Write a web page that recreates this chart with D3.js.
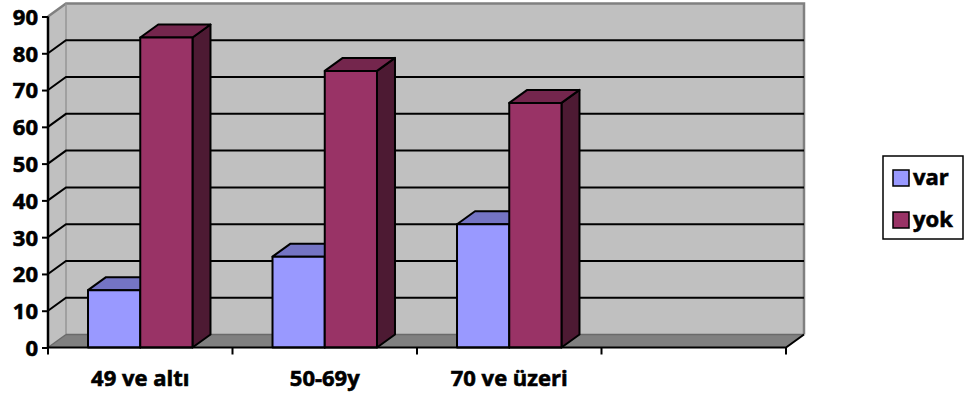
<!DOCTYPE html>
<html>
<head>
<meta charset="utf-8">
<script src="https://cdn.jsdelivr.net/npm/d3@7"></script>
<style>
  html, body { margin: 0; padding: 0; background: #ffffff; }
  svg { display: block; }
  text { font-family: "Open Sans", Lato, sans-serif; font-weight: 700; fill: #000; stroke: #000; stroke-width: 0.6px; }
</style>
</head>
<body>
<svg id="chart" width="964" height="398"></svg>
<script>
// Age groups (the last slot on the category axis is left empty)
const categories = ["49 ve altı", "50-69y", "70 ve üzeri", ""];
const seriesNames = ["var", "yok"];
const varValues = [15.6, 24.7, 33.5];
const yokValues = [84.3, 75.2, 66.5];
const yTicks = [0, 10, 20, 30, 40, 50, 60, 70, 80, 90];

const svg = d3.select("#chart");

// Oblique depth offset of the 3D box
const dx = 18, dy = -13;

const x = d3.scaleBand().domain(categories).range([48, 786]).paddingInner(0).paddingOuter(0);
const xs = d3.scaleBand().domain(seriesNames).range([0, x.bandwidth()]).paddingInner(0).paddingOuter(0.766);
const y = d3.scaleLinear().domain([0, 90]).range([347.5, 16.5]);

const x0 = x.range()[0], x1 = x.range()[1];
const yBase = y(0);

const colors = {
  var: { front: "#9999ff", top: "#7474c4", side: "#4f4f99" },
  yok: { front: "#993366", top: "#74264d", side: "#4d1a33" }
};

// Back wall
svg.append("rect")
  .attr("x", x0 + dx).attr("y", y(90) + dy)
  .attr("width", x1 - x0).attr("height", yBase - y(90))
  .attr("fill", "#c0c0c0");

// Side wall
svg.append("polygon")
  .attr("points", [[x0, y(90)], [x0 + dx, y(90) + dy], [x0 + dx, yBase + dy], [x0, yBase]].join(" "))
  .attr("fill", "#c0c0c0");

// Wall outlines
svg.append("path")
  .attr("d", `M${x0},${y(90)}L${x0 + dx},${y(90) + dy}L${x1 + dx},${y(90) + dy}L${x1 + dx},${yBase + dy}`)
  .attr("fill", "none").attr("stroke", "#808080").attr("stroke-width", 2.5);
svg.append("line")
  .attr("x1", x0 + dx).attr("x2", x0 + dx)
  .attr("y1", y(90) + dy).attr("y2", yBase + dy)
  .attr("stroke", "#969696").attr("stroke-width", 1.5);

// Gridlines: across the back wall and down the side wall
const grid = yTicks.filter(v => v > 0 && v < 90);
svg.append("g").selectAll("path").data(grid).join("path")
  .attr("d", v => `M${x0},${y(v)}L${x0 + dx},${y(v) + dy}L${x1 + dx},${y(v) + dy}`)
  .attr("fill", "none").attr("stroke", "#000").attr("stroke-width", 2);

// Floor
svg.append("polygon")
  .attr("points", [[x0, yBase], [x0 + dx, yBase + dy], [x1 + dx, yBase + dy], [x1, yBase]].join(" "))
  .attr("fill", "#808080");
svg.append("line")
  .attr("x1", x0 + dx).attr("x2", x1 + dx)
  .attr("y1", yBase + dy).attr("y2", yBase + dy)
  .attr("stroke", "#6a6a6a").attr("stroke-width", 1.5);
svg.append("line")
  .attr("x1", x0).attr("x2", x0 + dx)
  .attr("y1", yBase).attr("y2", yBase + dy)
  .attr("stroke", "#6a6a6a").attr("stroke-width", 1.5);

// Bars
const barData = [];
categories.slice(0, 3).forEach((c, i) => {
  barData.push({ cat: c, s: "var", v: varValues[i] });
  barData.push({ cat: c, s: "yok", v: yokValues[i] });
});

const bars = svg.append("g").selectAll("g").data(barData).join("g")
  .attr("stroke", "#000").attr("stroke-width", 2).attr("stroke-linejoin", "round");

bars.each(function (d) {
  const g = d3.select(this);
  const bx0 = x(d.cat) + xs(d.s);
  const bx1 = bx0 + xs.bandwidth();
  const yt = y(d.v);
  const c = colors[d.s];
  g.append("polygon")
    .attr("points", [[bx1, yt], [bx1 + dx, yt + dy], [bx1 + dx, yBase + dy], [bx1, yBase]].join(" "))
    .attr("fill", c.side);
  g.append("polygon")
    .attr("points", [[bx0, yt], [bx0 + dx, yt + dy], [bx1 + dx, yt + dy], [bx1, yt]].join(" "))
    .attr("fill", c.top);
  g.append("rect")
    .attr("x", bx0).attr("y", yt)
    .attr("width", bx1 - bx0).attr("height", yBase - yt)
    .attr("fill", c.front);
});

// Front edges of the floor
svg.append("path")
  .attr("d", `M${x0},${yBase}L${x1},${yBase}L${x1 + dx},${yBase + dy}`)
  .attr("fill", "none").attr("stroke", "#000").attr("stroke-width", 2);

// Value axis
const yAxis = svg.append("g").attr("transform", `translate(${x0},0)`)
  .call(d3.axisLeft(y).tickValues(yTicks).tickSize(6).tickPadding(4).tickFormat(d3.format("d")));
yAxis.select(".domain").attr("stroke", "#000").attr("stroke-width", 2.5).attr("d", `M0,${y(90)}V${yBase}`);
yAxis.selectAll(".tick line").attr("stroke", "#000").attr("stroke-width", 2);
yAxis.selectAll(".tick text").style("font-size", "22px").attr("dy", "0.36em");

// Category axis
const xAxis = svg.append("g").attr("transform", `translate(0,${yBase})`)
  .call(d3.axisBottom(x).tickSize(0).tickPadding(0));
xAxis.select(".domain").remove();
xAxis.selectAll(".tick text").style("font-size", "22px").attr("y", 38).attr("dy", 0);
svg.append("g").selectAll("line").data(d3.range(categories.length + 1)).join("line")
  .attr("x1", i => x0 + i * x.step()).attr("x2", i => x0 + i * x.step())
  .attr("y1", yBase).attr("y2", yBase + 7)
  .attr("stroke", "#000").attr("stroke-width", 2);

// Legend
const legend = svg.append("g");
legend.append("rect")
  .attr("x", 883).attr("y", 156).attr("width", 80).attr("height", 83)
  .attr("fill", "#fff").attr("stroke", "#000").attr("stroke-width", 1.5);
const items = legend.selectAll("g").data(seriesNames).join("g")
  .attr("transform", (d, i) => `translate(893,${178 + i * 42})`);
items.append("rect")
  .attr("x", 0).attr("y", -8).attr("width", 16).attr("height", 16)
  .attr("fill", d => colors[d].front).attr("stroke", "#000").attr("stroke-width", 1.5);
items.append("text")
  .attr("x", 20).attr("y", 0).attr("dy", "0.3em")
  .style("font-size", "22px")
  .text(d => d);
</script>
</body>
</html>
